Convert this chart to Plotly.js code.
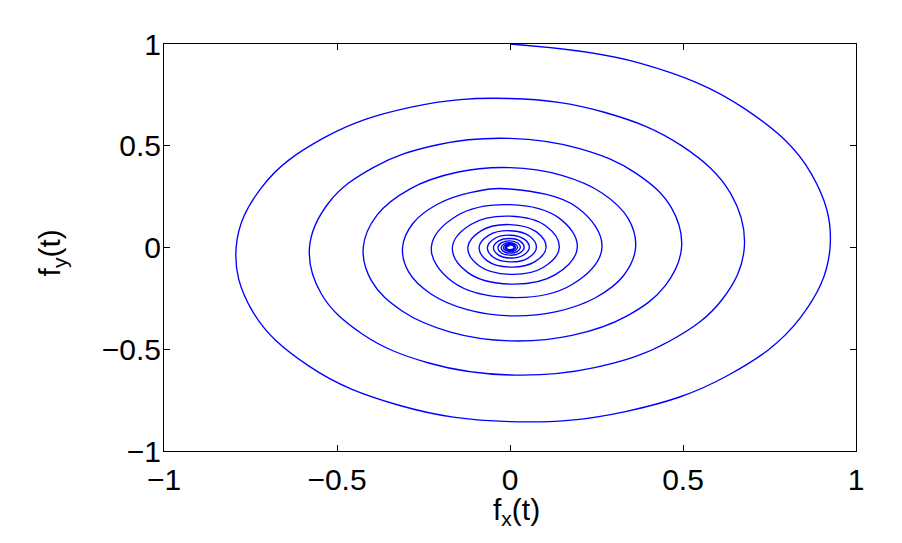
<!DOCTYPE html>
<html>
<head>
<meta charset="utf-8">
<script src="https://cdn.plot.ly/plotly-3.0.1.min.js"></script>
<style>
  html, body { margin: 0; padding: 0; background: #fff; }
  #chart { width: 902px; height: 543px; }
</style>
</head>
<body>
<div id="chart"></div>
<script>
// Spiral points, clockwise from the top.
// Outer four turns: every sixteenth of a turn; inner turns: every eighth.
const fx = [
  0, 0.3753, 0.6801, 0.8714, 0.925, 0.8382, 0.6291, 0.3339, 0, -0.3211, -0.5819, -0.7457, -0.7915, -0.7171, -0.5383, -0.2857,
  0, 0.2748, 0.4979, 0.6380, 0.6772, 0.6137, 0.4606, 0.2444, 0, -0.2351, -0.4260, -0.5459, -0.5795, -0.5250, -0.3941, -0.2092,
  0, 0.2012, 0.3645, 0.4671, 0.4958, 0.4493, 0.3372, 0.1790, 0, -0.1721, -0.3119, -0.3997, -0.4242, -0.3844, -0.2885, -0.1531,
  0, 0.1473, 0.2669, 0.3419, 0.3630, 0.3289, 0.2469, 0.1310, 0, -0.1260, -0.2283, -0.2926, -0.3106, -0.2814, -0.2112, -0.1121,
  0, 0.1954, 0.2658, 0.1807, 0, -0.1672, -0.2274, -0.1547,
  0, 0.1430, 0.1945, 0.1323, 0, -0.1224, -0.1665, -0.1132,
  0, 0.1047, 0.1425, 0.0969, 0, -0.0896, -0.1219, -0.0829,
  0, 0.0766, 0.1042, 0.0709, 0, -0.0656, -0.0892, -0.0607,
  0, 0.0561, 0.0763, 0.0519, 0, -0.0480, -0.0653, -0.0444,
  0, 0.0411, 0.0559, 0.0380, 0, -0.0351, -0.0478, -0.0325,
  0, 0.0301, 0.0409, 0.0278, 0, -0.0257, -0.0350, -0.0238,
  0, 0.0220, 0.0300, 0.0204, 0, -0.0189, -0.0256, -0.0174,
  0, 0.0161, 0.0219, 0.0149, 0, -0.0138, -0.0188, -0.0128,
  0, 0.0118, 0.0161, 0.0109, 0, -0.0101, -0.0138, -0.0094,
  0, 0.0086, 0.0117, 0.0080, 0, -0.0074, -0.0101, -0.0068,
  0
];
const fy = [
  1, 0.9061, 0.6801, 0.3610, 0, -0.3472, -0.6291, -0.8061, -0.8556, -0.7752, -0.5819, -0.3089, 0, 0.2971, 0.5383, 0.6898,
  0.7321, 0.6634, 0.4979, 0.2643, 0, -0.2542, -0.4606, -0.5902, -0.6264, -0.5675, -0.4260, -0.2261, 0, 0.2175, 0.3941, 0.5050,
  0.5360, 0.4857, 0.3645, 0.1935, 0, -0.1861, -0.3372, -0.4321, -0.4586, -0.4155, -0.3119, -0.1656, 0, 0.1592, 0.2885, 0.3697,
  0.3924, 0.3556, 0.2669, 0.1417, 0, -0.1362, -0.2469, -0.3163, -0.3357, -0.3042, -0.2283, -0.1212, 0, 0.1166, 0.2112, 0.2707,
  0.2873, 0.1954, 0, -0.1807, -0.2458, -0.1672, 0, 0.1547,
  0.2103, 0.1430, 0, -0.1323, -0.1799, -0.1224, 0, 0.1132,
  0.1540, 0.1047, 0, -0.0969, -0.1318, -0.0896, 0, 0.0829,
  0.1127, 0.0766, 0, -0.0709, -0.0964, -0.0656, 0, 0.0607,
  0.0825, 0.0561, 0, -0.0519, -0.0706, -0.0480, 0, 0.0444,
  0.0604, 0.0411, 0, -0.0380, -0.0517, -0.0351, 0, 0.0325,
  0.0442, 0.0301, 0, -0.0278, -0.0378, -0.0257, 0, 0.0238,
  0.0324, 0.0220, 0, -0.0204, -0.0277, -0.0189, 0, 0.0174,
  0.0237, 0.0161, 0, -0.0149, -0.0203, -0.0138, 0, 0.0128,
  0.0174, 0.0118, 0, -0.0109, -0.0149, -0.0101, 0, 0.0094,
  0.0127, 0.0086, 0, -0.0080, -0.0109, -0.0074, 0, 0.0068,
  0.0093
];
const xTicks = [-1, -0.5, 0, 0.5, 1];
const yTicks = [-1, -0.5, 0, 0.5, 1];
const xTitle = 'f<sub>x</sub>(t)';
const yTitle = 'f<sub>y</sub>(t)';

const font = { family: '"Liberation Sans Narrow", "Liberation Sans", Arial, sans-serif', size: 30, color: '#000' };

const trace = {
  x: fx, y: fy, type: 'scatter', mode: 'lines',
  line: { color: '#0000ff', width: 1.35, shape: 'spline', smoothing: 1.12, simplify: false },
  hoverinfo: 'skip'
};

const axisCommon = {
  showgrid: false, zeroline: false,
  showline: true, linecolor: '#000', linewidth: 1, mirror: 'ticks',
  ticks: 'inside', ticklen: 6, tickwidth: 1, tickcolor: '#000',
  tickfont: font, automargin: false, fixedrange: true
};

const layout = {
  width: 902, height: 543,
  margin: { l: 164, r: 46, t: 44, b: 92 },
  paper_bgcolor: '#fff', plot_bgcolor: '#fff',
  showlegend: false,
  font: font,
  xaxis: Object.assign({}, axisCommon, {
    range: [-1, 1], tickvals: xTicks, ticklabelstandoff: 2
  }),
  yaxis: Object.assign({}, axisCommon, {
    range: [-1, 1], tickvals: yTicks, ticklabelstandoff: -4
  }),
  annotations: [
    { text: xTitle, xref: 'paper', yref: 'paper', x: 0.510, y: -0.148,
      xanchor: 'center', yanchor: 'middle', showarrow: false, font: font },
    { text: yTitle, xref: 'paper', yref: 'paper', x: -0.162, y: 0.4877, textangle: -90,
      xanchor: 'center', yanchor: 'middle', showarrow: false, font: font }
  ]
};

Plotly.newPlot('chart', [trace], layout, { displayModeBar: false, staticPlot: true });
</script>
</body>
</html>
